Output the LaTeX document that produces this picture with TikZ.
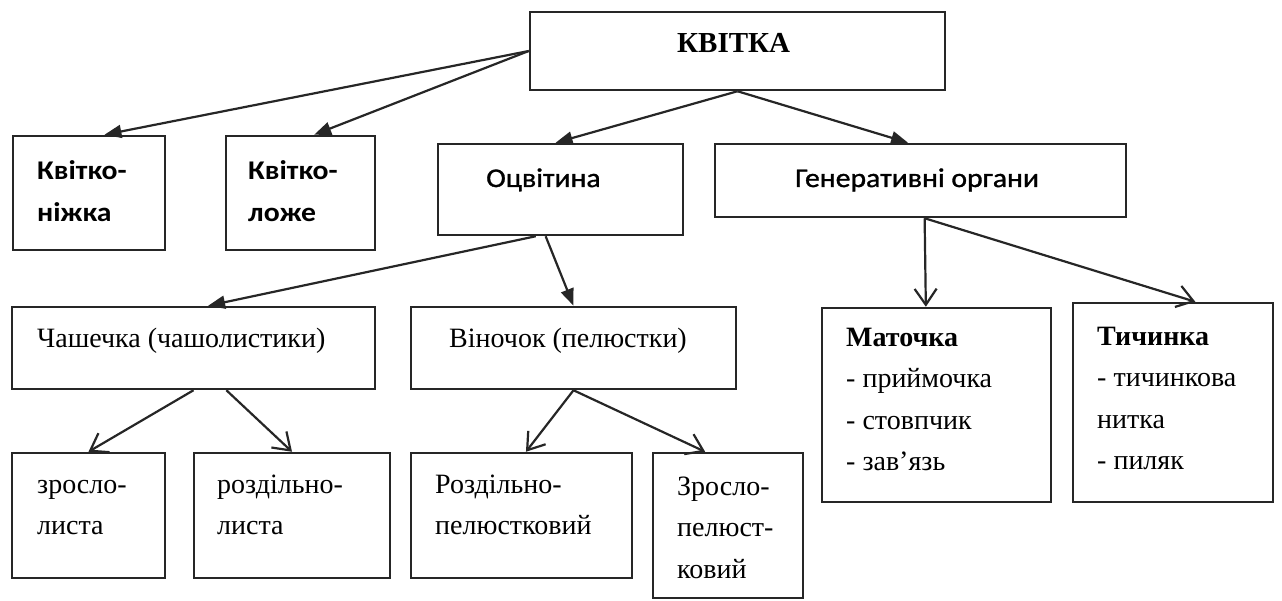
\documentclass[tikz,border=0pt]{standalone}
\usepackage{fontspec}
\setmainfont{Liberation Serif}
\newfontfamily\calib[FakeStretch=1.1]{Carlito}
\newfontfamily\calibm[FakeStretch=1.1,FakeBold=1.2]{Carlito}
\usetikzlibrary{arrows.meta,calc}

\tikzset{
  box/.style={draw=black!85, line width=2.5pt, inner sep=0pt},
  stxt/.style={anchor=base west, inner sep=0pt, align=left, font=\calibm\fontsize{27}{42}\selectfont},
  rtxt/.style={anchor=base west, inner sep=0pt, align=left, font=\fontsize{28}{41.5}\selectfont},
  fat/.style={-{Triangle[length=17pt,width=13pt]}, line width=2.2pt, draw=black!85},
  barb/.style={-{Straight Barb[length=16pt,width=22pt]}, line width=2.2pt, draw=black!85},
}

\begin{document}
\begin{tikzpicture}[x=1pt,y=-1pt]

    \useasboundingbox (0,0) rectangle (1282,601);

    % Top box
    \node[box, minimum width=415pt, minimum height=78pt] (kvitka) at (737.5,51) {};
    \node[anchor=base west, inner sep=0pt, font=\bfseries\fontsize{29}{36}\selectfont] (kvitka-t) at (677,53) {КВІТКА};

    % Second row (text nodes sit on their last baseline)
    \node[box, minimum width=152pt, minimum height=114pt] (nizhka) at (89,193) {};
    \node[box, minimum width=149pt, minimum height=114pt] (lozhe) at (300.5,193) {};
    \node[box, minimum width=245pt, minimum height=91pt] (ocv) at (560.5,189.5) {};
    \node[box, minimum width=411pt, minimum height=73pt] (gen) at (920.5,180.5) {};
    \node[stxt, font=\calib\bfseries\fontsize{27}{42}\selectfont] (nizhka-t) at (37,222) {Квітко-\\ніжка};
    \node[stxt, font=\calib\bfseries\fontsize{27}{42}\selectfont] (lozhe-t) at (248,222) {Квітко-\\ложе};
    \node[stxt] (ocv-t) at (486,187) {Оцвітина};
    \node[stxt] (gen-t) at (795,187) {Генеративні органи};

    % Third row
    \node[box, minimum width=363pt, minimum height=82pt] (chash) at (193.5,348) {};
    \node[box, minimum width=325pt, minimum height=82pt] (vin) at (573.5,348) {};
    \node[box, minimum width=229pt, minimum height=194pt] (mat) at (936.5,405) {};
    \node[box, minimum width=200pt, minimum height=199pt] (tych) at (1173,402.5) {};
    \node[rtxt] (chash-t) at (37,348) {Чашечка (чашолистики)};
    \node[rtxt] (vin-t) at (449,348) {Віночок (пелюстки)};
    \node[rtxt] (mat-t) at (846,470.5) {\textbf{Маточка}\\- приймочка\\- стовпчик\\- зав’язь};
    \node[rtxt] (tych-t) at (1097,469.5) {\textbf{Тичинка}\\- тичинкова\\нитка\\- пиляк};

    % Bottom row
    \node[box, minimum width=153pt, minimum height=125pt] (zr) at (88.5,515.5) {};
    \node[box, minimum width=196pt, minimum height=125pt] (rozd) at (292,515.5) {};
    \node[box, minimum width=221pt, minimum height=125pt] (rp) at (521.5,515.5) {};
    \node[box, minimum width=150pt, minimum height=145pt] (zp) at (728,525.5) {};
    \node[rtxt] (zr-t) at (37,534.5) {зросло-\\листа};
    \node[rtxt] (rozd-t) at (217,534.5) {роздільно-\\листа};
    \node[rtxt] (rp-t) at (435,534.5) {Роздільно-\\пелюстковий};
    \node[rtxt] (zp-t) at (677,578) {Зросло-\\пелюст-\\ковий};

    % Arrows from the top
    \draw[fat] (kvitka.west) -- ($(nizhka.north west)!0.6!(nizhka.north east)$);
    \draw[fat] (kvitka.west) -- ($(lozhe.north west)!0.59!(lozhe.north east)$);
    \draw[fat] (kvitka.south) -- ($(ocv.north west)!0.48!(ocv.north east)$);
    \draw[fat] (kvitka.south) -- ($(gen.north west)!0.47!(gen.north east)$);

    % Arrows from perianth
    \draw[fat] ($(ocv.south west)!0.4!(ocv.south east)$) -- ($(chash.north west)!0.54!(chash.north east)$);
    \draw[fat] ($(ocv.south west)!0.44!(ocv.south east)$) -- (vin.north);

    % Arrows from generative organs
    \draw[barb] ($(gen.south west)!0.51!(gen.south east)$) -- ($(mat.north west)!0.454!(mat.north east)$);
    \draw[barb] ($(gen.south west)!0.51!(gen.south east)$) -- ($(tych.north west)!0.61!(tych.north east)$);

    % Lowest arrows
    \draw[barb] (chash.south) -- (zr.north);
    \draw[barb] ($(chash.south west)!0.59!(chash.south east)$) -- (rozd.north);
    \draw[barb] (vin.south) -- ($(rp.north west)!0.52!(rp.north east)$);
    \draw[barb] (vin.south) -- ($(zp.north west)!0.35!(zp.north east)$);
  \end{tikzpicture}
\end{document}
